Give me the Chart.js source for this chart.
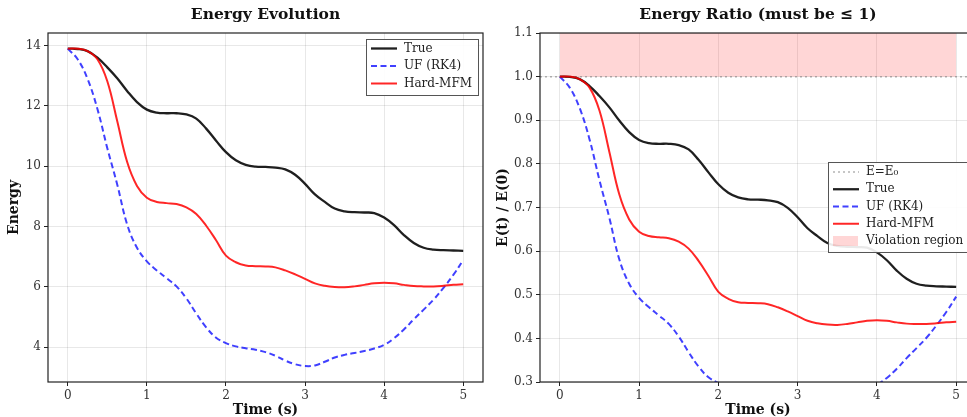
<!DOCTYPE html>
<html lang="en">
<head>
<meta charset="UTF-8">
<title>Energy Evolution</title>
<script src="https://cdn.jsdelivr.net/npm/chart.js@4.4.1/dist/chart.umd.min.js"></script>
<style>
    body { margin: 0; background: #fff; overflow: hidden; width: 967px; height: 417px; position: relative; }
    #energy { position: absolute; left: 0; top: 0; }
    #ratio { position: absolute; left: 490px; top: 0; }
</style>
</head>
<body>
<canvas id="energy" width="490" height="417"></canvas>
<canvas id="ratio" width="486" height="417"></canvas>
<script>
    // data
    const timeS = [0, 0.125, 0.25, 0.375, 0.5, 0.625, 0.75, 0.875, 1, 1.125, 1.25, 1.375, 1.5, 1.625, 1.75, 1.875,
        2, 2.125, 2.25, 2.375, 2.5, 2.625, 2.75, 2.875, 3, 3.125, 3.25, 3.375, 3.5, 3.625, 3.75, 3.875,
        4, 4.125, 4.25, 4.375, 4.5, 4.625, 4.75, 4.875, 5];
    const energyTrue = [13.9, 13.89, 13.82, 13.6, 13.28, 12.92, 12.5, 12.13, 11.88, 11.78, 11.76, 11.76, 11.72, 11.58, 11.25, 10.85,
        10.47, 10.2, 10.05, 9.99, 9.98, 9.96, 9.9, 9.72, 9.42, 9.07, 8.82, 8.6, 8.51, 8.48, 8.47, 8.45,
        8.3, 8.05, 7.72, 7.46, 7.3, 7.24, 7.22, 7.21, 7.2];
    const energyUF = [13.9, 13.55, 12.9, 11.9, 10.6, 9.4, 8.08, 7.3, 6.85, 6.55, 6.29, 6.02, 5.62, 5.12, 4.66, 4.32,
        4.14, 4.03, 3.97, 3.92, 3.84, 3.72, 3.56, 3.44, 3.38, 3.4, 3.52, 3.66, 3.75, 3.81, 3.88, 3.96,
        4.08, 4.3, 4.59, 4.93, 5.25, 5.58, 5.97, 6.4, 6.89];
    const energyMFM = [13.9, 13.9, 13.82, 13.55, 12.82, 11.5, 10.15, 9.35, 8.96, 8.82, 8.78, 8.75, 8.64, 8.42, 8.03, 7.55,
        7.04, 6.82, 6.71, 6.69, 6.68, 6.65, 6.55, 6.42, 6.27, 6.12, 6.04, 6.0, 5.99, 6.02, 6.07, 6.12,
        6.14, 6.12, 6.07, 6.03, 6.02, 6.02, 6.04, 6.07, 6.09];
    const xTicks = [0, 1, 2, 3, 4, 5];
    const energyTicks = [4, 6, 8, 10, 12, 14];
    const ratioTicks = [0.3, 0.4, 0.5, 0.6, 0.7, 0.8, 0.9, 1.0, 1.1];
    const violationX = [0, 5];
    const violationLow = 1.0;
    const violationHigh = 1.1;
    const refRatio = 1.0;

    const serif = '"DejaVu Serif", serif';
    const pts = (ys) => ys.map((y, i) => ({x: timeS[i], y: y}));
    const ratio = (ys) => ys.map(v => v / ys[0]);

    function seriesSets(tr, uf, mfm) {
        return [
            {label: 'True', data: pts(tr), borderColor: 'rgba(0,0,0,0.88)', borderWidth: 2.3, order: 3},
            {label: 'UF (RK4)', data: pts(uf), borderColor: 'rgba(0,0,255,0.75)', borderWidth: 2, borderDash: [6, 3.5], order: 2},
            {label: 'Hard-MFM', data: pts(mfm), borderColor: 'rgba(255,0,0,0.85)', borderWidth: 2, order: 1}
        ];
    }

    // frame, title, legend
    const decor = {
        id: 'decor',
        afterDraw(chart, args, opts) {
            const ctx = chart.ctx, a = chart.chartArea;
            ctx.save();
            ctx.strokeStyle = '#222';
            ctx.lineWidth = 1.2;
            ctx.strokeRect(a.left, a.top, a.right - a.left, a.bottom - a.top);

            ctx.fillStyle = '#111';
            ctx.font = 'bold 15.5px ' + serif;
            ctx.textAlign = 'center';
            ctx.textBaseline = 'middle';
            ctx.fillText(opts.title, (a.left + a.right) / 2, 15);

            const L = opts.legend;
            ctx.fillStyle = 'rgba(255,255,255,0.9)';
            ctx.fillRect(L.x, L.y, L.w, L.h);
            ctx.strokeStyle = '#555';
            ctx.lineWidth = 1;
            ctx.strokeRect(L.x + 0.5, L.y + 0.5, L.w, L.h);
            ctx.font = '12px ' + serif;
            ctx.textAlign = 'left';
            L.order.forEach((di, i) => {
                const ds = chart.data.datasets[di];
                const y = L.y + L.first + i * L.step;
                if (ds.fill) {
                    ctx.fillStyle = ds.backgroundColor;
                    ctx.fillRect(L.x + 5, y - 5, 25, 10);
                } else {
                    ctx.strokeStyle = ds.borderColor;
                    ctx.lineWidth = ds.borderWidth;
                    ctx.setLineDash(ds.borderDash || []);
                    ctx.beginPath();
                    ctx.moveTo(L.x + 5, y);
                    ctx.lineTo(L.x + 31, y);
                    ctx.stroke();
                    ctx.setLineDash([]);
                }
                ctx.fillStyle = '#222';
                ctx.fillText(ds.label, L.x + L.textOff, y);
            });
            ctx.restore();
        }
    };

    function makeOptions(cfg) {
        return {
            responsive: false,
            animation: false,
            layout: {padding: {left: 0, right: cfg.padRight, top: 33, bottom: 0}},
            elements: {point: {radius: 0}, line: {tension: 0.4, fill: false}},
            plugins: {
                legend: {display: false},
                tooltip: {enabled: false},
                decor: {title: cfg.title, legend: cfg.legend}
            },
            scales: {
                x: {
                    type: 'linear', min: -0.25, max: 5.25,
                    afterBuildTicks: s => { s.ticks = xTicks.map(v => ({value: v})); },
                    afterFit: s => { s.height = 35; },
                    grid: {color: 'rgba(0,0,0,0.09)', tickLength: 4, tickColor: '#222'},
                    border: {display: false},
                    ticks: {color: '#333', font: {family: serif, size: 12}, padding: 3},
                    title: {display: true, text: 'Time (s)', color: '#111', font: {family: serif, size: 14, weight: 'bold'}, padding: {top: 0, bottom: -1.5}}
                },
                y: {
                    type: 'linear', min: cfg.yMin, max: cfg.yMax,
                    afterBuildTicks: s => { s.ticks = cfg.yTicks.map(v => ({value: v})); },
                    afterFit: s => { s.width = cfg.yWidth; },
                    grid: {color: 'rgba(0,0,0,0.09)', tickLength: 4, tickColor: '#222'},
                    border: {display: false},
                    ticks: {color: '#333', font: {family: serif, size: 12}, padding: 3, callback: cfg.fmt},
                    title: {display: true, text: cfg.yTitle, color: '#111', font: {family: serif, size: 14, weight: 'bold'}, padding: {top: cfg.yTitlePad, bottom: 0}}
                }
            }
        };
    }

    new Chart(document.getElementById('energy'), {
        type: 'line',
        data: {datasets: seriesSets(energyTrue, energyUF, energyMFM)},
        options: makeOptions({
            padRight: 7, yMin: 2.85, yMax: 14.42, yTicks: energyTicks, yWidth: 48, yTitle: 'Energy', yTitlePad: 5.5,
            fmt: v => String(v), title: 'Energy Evolution',
            legend: {x: 366, y: 39, w: 112, h: 56, first: 9.5, step: 17.5, textOff: 38, order: [0, 1, 2]}
        }),
        plugins: [decor]
    });

    const ratioSets = [
        {label: 'Violation region', data: violationX.map(x => ({x: x, y: violationHigh})), fill: {value: violationLow},
            backgroundColor: 'rgba(255,0,0,0.16)', borderWidth: 0, tension: 0, order: 10},
        {label: 'E=E\u2080', data: [{x: -0.25, y: refRatio}, {x: 5.25, y: refRatio}], borderColor: 'rgba(128,128,128,0.6)',
            borderWidth: 1.5, borderDash: [2, 3], tension: 0, order: 9}
    ].concat(seriesSets(ratio(energyTrue), ratio(energyUF), ratio(energyMFM)));

    new Chart(document.getElementById('ratio'), {
        type: 'line',
        data: {datasets: ratioSets},
        options: makeOptions({
            padRight: 0, yMin: 0.3, yMax: 1.1, yTicks: ratioTicks, yWidth: 50, yTitle: 'E(t) / E(0)', yTitlePad: 4.5,
            fmt: v => v.toFixed(1), title: 'Energy Ratio (must be \u2264 1)',
            legend: {x: 338, y: 162, w: 160, h: 90, first: 10, step: 17.25, textOff: 38, order: [1, 2, 3, 4, 0]}
        }),
        plugins: [decor]
    });
</script>
</body>
</html>
